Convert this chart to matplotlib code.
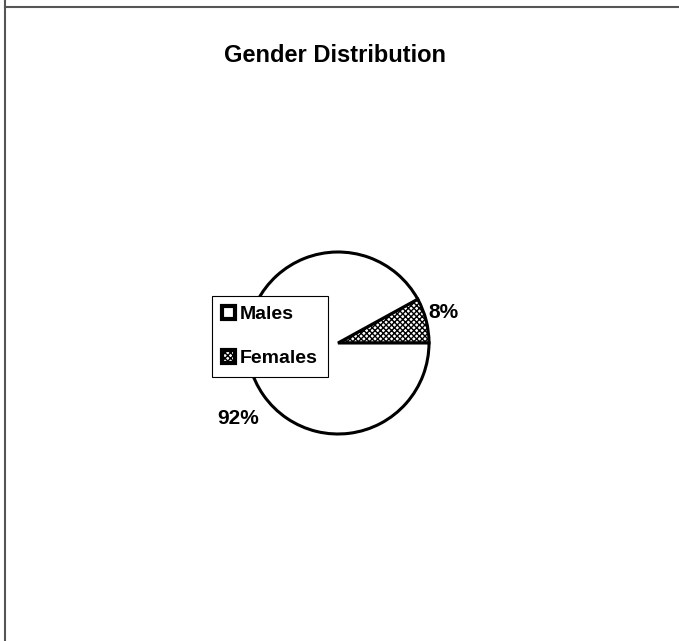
import matplotlib.pyplot as plt

labels = ['Females', 'Males']
shares = [8, 92]
pct_text = ['8%', '92%']
legend_order = ['Males', 'Females']

plt.rcParams['font.family'] = ['Liberation Sans', 'DejaVu Sans']

fig = plt.figure(figsize=(6.79, 6.41), dpi=100)
ax = fig.add_axes([0, 0, 1, 1])

# frame lines from the scanned page
fig.add_artist(plt.Line2D([0.007, 1.0], [0.989, 0.989], color='#555555', lw=1.5))
fig.add_artist(plt.Line2D([0.008, 0.008], [0.0, 1.0], color='#555555', lw=1.5))

wedges, _ = ax.pie(shares, center=(338, 298), radius=91, startangle=0,
                   counterclock=True, colors=['white', 'white'],
                   wedgeprops=dict(edgecolor='black', linewidth=2.2),
                   frame=True)
wedges[0].set_hatch('xxxxxx')
ax.set_xlim(0, 679)
ax.set_ylim(0, 641)
ax.set_aspect('equal')
ax.axis('off')

ax.text(443, 328, pct_text[0], fontsize=15, fontweight='bold', ha='center', va='center')
ax.text(238, 222, pct_text[1], fontsize=15, fontweight='bold', ha='center', va='center')

ax.text(335, 586, 'Gender Distribution', fontsize=17, fontweight='bold',
        ha='center', va='center')

handles = [wedges[1], wedges[0]]
leg = ax.legend(handles, legend_order, loc='upper left',
                bbox_to_anchor=(212, 345), bbox_transform=ax.transData,
                fontsize=14, frameon=True, fancybox=False, framealpha=1,
                edgecolor='black', labelspacing=1.35, handlelength=0.7,
                handleheight=0.7, handletextpad=0.25, borderpad=0.5,
                borderaxespad=0)
leg.get_frame().set_linewidth(0.8)
for t in leg.get_texts():
    t.set_fontweight('bold')
for p in leg.get_patches():
    p.set_linewidth(3)

fig.savefig('out.png', dpi=100)
